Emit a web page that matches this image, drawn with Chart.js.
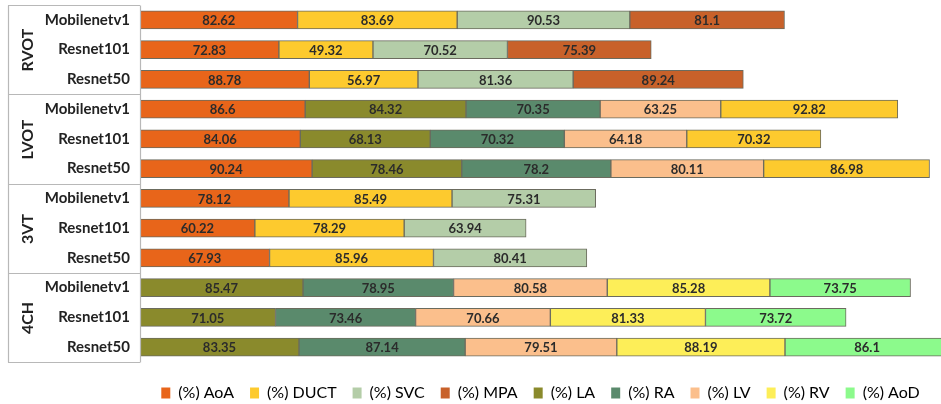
<!DOCTYPE html>
<html>
<head>
<meta charset="utf-8">
<script src="https://cdn.jsdelivr.net/npm/chart.js@4.4.1/dist/chart.umd.min.js"></script>
<style>
  html, body { margin: 0; padding: 0; background: #fff; }
  #wrap { width: 941px; height: 404px; }
</style>
</head>
<body>
<div id="wrap"><canvas id="chart"></canvas></div>
<script>
// rows, top to bottom
var models = ['Mobilenetv1', 'Resnet101', 'Resnet50',
              'Mobilenetv1', 'Resnet101', 'Resnet50',
              'Mobilenetv1', 'Resnet101', 'Resnet50',
              'Mobilenetv1', 'Resnet101', 'Resnet50'];
var groups = ['RVOT', 'LVOT', '3VT', '4CH'];

// (%) per structure, one entry per row (null = not measured)
var aoa  = [82.62, 72.83, 88.78, 86.6, 84.06, 90.24, 78.12, 60.22, 67.93, null, null, null];
var duct = [83.69, 49.32, 56.97, null, null, null, 85.49, 78.29, 85.96, null, null, null];
var svc  = [90.53, 70.52, 81.36, null, null, null, 75.31, 63.94, 80.41, null, null, null];
var mpa  = [81.1, 75.39, 89.24, null, null, null, null, null, null, null, null, null];
var la   = [null, null, null, 84.32, 68.13, 78.46, null, null, null, 85.47, 71.05, 83.35];
var ra   = [null, null, null, 70.35, 70.32, 78.2, null, null, null, 78.95, 73.46, 87.14];
var lv   = [null, null, null, 63.25, 64.18, 80.11, null, null, null, 80.58, 70.66, 79.51];
var rv   = [null, null, null, 92.82, 70.32, 86.98, null, null, null, 85.28, 81.33, 88.19];
var aod  = [null, null, null, null, null, null, null, null, null, 73.75, 73.72, 86.1];

var FONT = 'Lato, "Open Sans", sans-serif';

function ds(label, data, color) {
  return {
    label: label,
    data: data,
    backgroundColor: color,
    borderColor: '#6b6b5e',
    borderWidth: 1,
    borderSkipped: false,
    barThickness: 18
  };
}

var rvColors = rv.map(function (v, i) { return i < 6 ? '#fdca2e' : '#fdee58'; });

var datasets = [
  ds('(%) AoA', aoa, '#e8651a'),
  ds('(%) DUCT', duct, '#fdca2e'),
  ds('(%) SVC', svc, '#b4cda8'),
  ds('(%) MPA', mpa, '#c8612a'),
  ds('(%) LA', la, '#8a8a2c'),
  ds('(%) RA', ra, '#5a8a6c'),
  ds('(%) LV', lv, '#fbbf8c'),
  ds('(%) RV', rv, rvColors),
  ds('(%) AoD', aod, '#8cfa8c')
];

// values written in the middle of each segment
var valueLabels = {
  id: 'valueLabels',
  afterDatasetsDraw: function (chart) {
    var ctx = chart.ctx;
    ctx.save();
    ctx.font = 'bold 13px ' + FONT;
    ctx.fillStyle = '#2b2b2b';
    ctx.textAlign = 'center';
    ctx.textBaseline = 'middle';
    chart.data.datasets.forEach(function (d, di) {
      chart.getDatasetMeta(di).data.forEach(function (bar, i) {
        if (d.data[i] == null) return;
        var cx = (bar.x + bar.base) / 2;
        if (cx > chart.chartArea.right) return;
        ctx.fillText(String(d.data[i]), cx, bar.y + 1);
      });
    });
    ctx.restore();
  }
};

// table frame and rotated group names on the left
var groupFrame = {
  id: 'groupFrame',
  afterDraw: function (chart) {
    var ctx = chart.ctx;
    var y = chart.scales.y;
    var left = 8, right = chart.chartArea.left;
    ctx.save();
    ctx.strokeStyle = '#b8b8b8';
    ctx.lineWidth = 1.2;
    var edges = [];
    for (var g = 0; g <= groups.length; g++) {
      edges.push(Math.round(y.getPixelForValue(g * 3 - 0.5)) + 0.5);
    }
    ctx.beginPath();
    edges.forEach(function (e) {
      ctx.moveTo(left, e);
      ctx.lineTo(right, e);
    });
    ctx.moveTo(left + 0.5, edges[0]);
    ctx.lineTo(left + 0.5, edges[edges.length - 1]);
    ctx.moveTo(right + 0.5, edges[0]);
    ctx.lineTo(right + 0.5, edges[edges.length - 1]);
    ctx.stroke();

    ctx.fillStyle = '#222';
    ctx.font = 'bold 16px ' + FONT;
    ctx.textAlign = 'center';
    ctx.textBaseline = 'middle';
    groups.forEach(function (name, g) {
      var cy = (edges[g] + edges[g + 1]) / 2;
      ctx.save();
      ctx.translate(28, cy);
      ctx.rotate(-Math.PI / 2);
      ctx.fillText(name, 0, 0);
      ctx.restore();
    });
    ctx.restore();
  }
};

// push the legend a little lower, as in the original
var legendShift = {
  id: 'legendShift',
  afterLayout: function (chart) {
    chart.legend.top += 7;
    chart.legend.bottom += 7;
  }
};

new Chart(document.getElementById('chart'), {
  type: 'bar',
  data: { labels: models, datasets: datasets },
  options: {
    indexAxis: 'y',
    responsive: true,
    maintainAspectRatio: false,
    animation: false,
    layout: { padding: { left: 8, right: 0, top: 5, bottom: 0 } },
    scales: {
      x: {
        stacked: true,
        min: 0,
        max: 420,
        display: false
      },
      y: {
        stacked: true,
        grid: { display: false, drawTicks: false },
        border: { display: false },
        ticks: {
          color: '#222',
          padding: 10,
          font: { family: FONT, size: 15, weight: 'bold' }
        },
        afterFit: function (scale) {
          scale.width = 132;
          scale.paddingTop = 0;
          scale.paddingBottom = 0;
        }
      }
    },
    plugins: {
      legend: {
        position: 'bottom',
        fullSize: false,
        labels: {
          color: '#222',
          boxWidth: 9,
          boxHeight: 11,
          padding: 16,
          font: { family: FONT, size: 16 },
          generateLabels: function (chart) {
            return chart.data.datasets.map(function (d, i) {
              var c = Array.isArray(d.backgroundColor) ? d.backgroundColor[d.backgroundColor.length - 1] : d.backgroundColor;
              return { text: d.label, fillStyle: c, strokeStyle: c, lineWidth: 0, datasetIndex: i };
            });
          }
        }
      },
      tooltip: { enabled: false }
    }
  },
  plugins: [valueLabels, groupFrame, legendShift]
});
</script>
</body>
</html>
